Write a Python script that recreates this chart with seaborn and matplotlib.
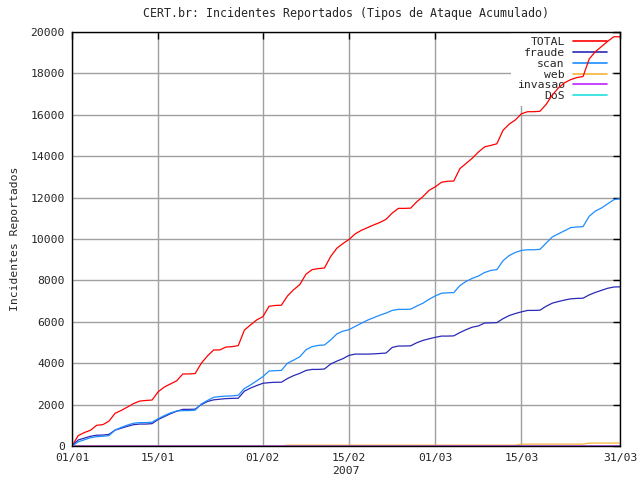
# -*- coding: utf-8 -*-

import matplotlib
matplotlib.use('Agg')
import matplotlib.dates as mdates
import matplotlib.pyplot as plt
import pandas as pd
import seaborn as sns

# dias de 01/01/2007 a 31/03/2007 (90 dias)
DIAS = pd.date_range('2007-01-01', periods=90, freq='D')

TOTAL = [
    0, 500, 650, 760, 1000, 1030, 1200, 1580, 1720, 1880,
    2050, 2170, 2200, 2220, 2620, 2850, 3000, 3150, 3480, 3480,
    3500, 4000, 4350, 4640, 4640, 4780, 4800, 4850, 5600, 5850,
    6090, 6250, 6750, 6790, 6800, 7250, 7550, 7800, 8300, 8520,
    8570, 8600, 9150, 9550, 9780, 9980, 10250, 10420, 10550, 10680,
    10800, 10950, 11250, 11480, 11480, 11490, 11800, 12050, 12350, 12520,
    12740, 12790, 12800, 13400, 13650, 13900, 14200, 14450, 14520, 14600,
    15250, 15550, 15750, 16050, 16150, 16150, 16170, 16500, 16950, 17300,
    17550, 17700, 17800, 17850, 18700, 19050, 19300, 19550, 19770, 19770,
]

FRAUDE = [
    0, 290, 380, 470, 520, 530, 560, 770, 860, 950,
    1030, 1060, 1060, 1080, 1280, 1420, 1560, 1680, 1770, 1770,
    1780, 2000, 2150, 2230, 2260, 2290, 2300, 2310, 2650, 2800,
    2920, 3030, 3060, 3080, 3080, 3260, 3400, 3510, 3650, 3700,
    3700, 3720, 3960, 4100, 4220, 4380, 4440, 4440, 4440, 4450,
    4470, 4490, 4760, 4830, 4830, 4840, 4990, 5100, 5180, 5250,
    5310, 5310, 5320, 5480, 5620, 5740, 5800, 5940, 5950, 5960,
    6150, 6300, 6400, 6480, 6550, 6550, 6560, 6750, 6900, 6980,
    7050, 7110, 7130, 7140, 7300, 7420, 7520, 7620, 7680, 7690,
]

SCAN = [
    0, 200, 300, 400, 450, 470, 500, 770, 900, 1010,
    1100, 1130, 1130, 1150, 1320, 1470, 1600, 1690, 1710, 1710,
    1730, 2030, 2200, 2350, 2390, 2410, 2420, 2450, 2780, 2950,
    3150, 3350, 3620, 3640, 3650, 4000, 4150, 4310, 4650, 4800,
    4860, 4880, 5120, 5410, 5550, 5620, 5780, 5930, 6080, 6200,
    6320, 6420, 6550, 6600, 6600, 6610, 6760, 6900, 7090, 7250,
    7380, 7400, 7410, 7750, 7950, 8100, 8210, 8380, 8480, 8520,
    8950, 9200, 9350, 9450, 9480, 9480, 9500, 9800, 10100, 10250,
    10400, 10550, 10580, 10600, 11100, 11350, 11500, 11700, 11900, 11950,
]

WEB = [0] * 35 + [40] * 38 + [90] * 11 + [140] * 6
INVASAO = [0] * 60 + [5] * 30
DOS = [0] * 90

TIPOS = ['TOTAL', 'fraude', 'scan', 'web', 'invasao', 'DoS']
CORES = ['#ff0000', '#2a2ab8', '#1e8cff', '#f5b53a', '#c020ff', '#20e0e0']

FS = 8.2


def monta_tabela():
    series = [TOTAL, FRAUDE, SCAN, WEB, INVASAO, DOS]
    partes = []
    for tipo, valores in zip(TIPOS, series):
        partes.append(pd.DataFrame({'data': DIAS, 'incidentes': valores, 'tipo': tipo}))
    return pd.concat(partes, ignore_index=True)


def main():
    sns.set_style('white')
    plt.rcParams['font.family'] = ['DejaVu Sans Mono']
    plt.rcParams['font.size'] = FS

    fig = plt.figure(figsize=(6.4, 4.8), dpi=100)
    ax = fig.add_axes([72 / 640, 34 / 480, 548 / 640, 414 / 480])

    data = monta_tabela()
    sns.lineplot(data=data, x='data', y='incidentes', hue='tipo',
                 hue_order=TIPOS, palette=CORES, linewidth=0.9,
                 legend=False, ax=ax, zorder=3)

    ax.set_xlim(DIAS[0], DIAS[-1])
    ax.set_ylim(0, 20000)
    ax.set_yticks(range(0, 20001, 2000))
    ticks = pd.to_datetime(['2007-01-01', '2007-01-15', '2007-02-01', '2007-02-15',
                            '2007-03-01', '2007-03-15', '2007-03-31'])
    ax.set_xticks(ticks)
    ax.xaxis.set_major_formatter(mdates.DateFormatter('%d/%m'))

    ax.grid(True, color='#a0a0a0', linewidth=1, zorder=0.5)
    ax.set_axisbelow(True)
    ax.tick_params(direction='in', length=5, width=1, top=True, right=True,
                   color='black', labelsize=FS, pad=5)
    for sp in ax.spines.values():
        sp.set_color('black')
        sp.set_linewidth(1)
        sp.set_zorder(4)

    ax.set_title('CERT.br: Incidentes Reportados (Tipos de Ataque Acumulado)',
                 fontsize=8.4, pad=11)
    ax.set_xlabel('2007', fontsize=FS, labelpad=2)
    ax.set_ylabel('Incidentes Reportados', fontsize=FS, labelpad=8)

    handles = ax.get_lines()[:len(TIPOS)]
    leg = ax.legend(handles, TIPOS, loc='upper right',
                    bbox_to_anchor=(1 - 8 / 548, 1),
                    borderaxespad=0, markerfirst=False, handlelength=3.0,
                    handletextpad=0.7, labelspacing=0.07, borderpad=0.45,
                    fancybox=False, framealpha=1, facecolor='white',
                    edgecolor='white', fontsize=FS)
    leg.get_frame().set_linewidth(0)
    leg.set_zorder(2.5)
    for line in leg.get_lines():
        line.set_linewidth(1.2)

    fig.savefig('out.png', dpi=100)


if __name__ == '__main__':
    main()
